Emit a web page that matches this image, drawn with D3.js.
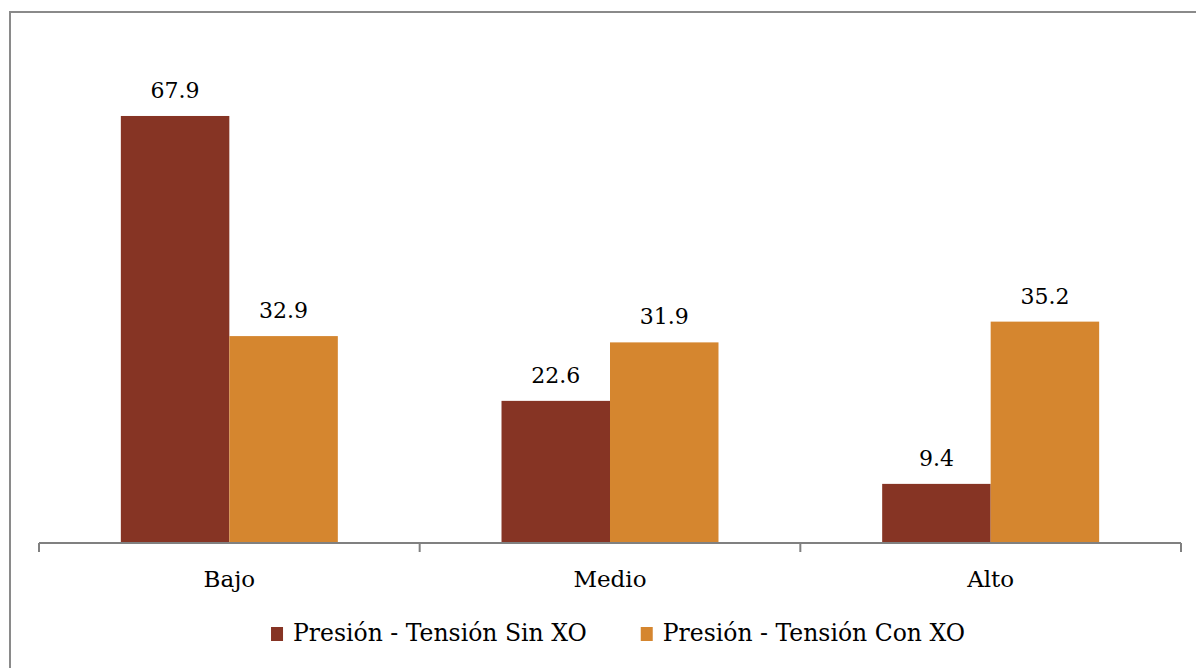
<!DOCTYPE html>
<html>
<head>
<meta charset="utf-8">
<script src="https://cdn.jsdelivr.net/npm/d3@7"></script>
<style>
  html, body { margin: 0; padding: 0; background: #fff; }
  svg { display: block; }
</style>
</head>
<body>
<svg id="chart" width="1196" height="668"></svg>
<script>
// Niveles de presión-tensión
const categories = ["Bajo", "Medio", "Alto"];
const seriesNames = ["Presión - Tensión Sin XO", "Presión - Tensión Con XO"];
const sinXO = [67.9, 22.6, 9.4];
const conXO = [32.9, 31.9, 35.2];
const seriesColors = ["#863424", "#d5862f"];

const FONT = "'DejaVu Serif', serif";

const svg = d3.select("#chart")
  .attr("font-family", FONT);
const W = 1196, H = 668;

// Marco del gráfico
svg.append("rect")
  .attr("x", 10).attr("y", 12)
  .attr("width", W + 20).attr("height", H + 20)
  .attr("fill", "none")
  .attr("stroke", "#8a8a8a")
  .attr("stroke-width", 2);

const plot = { left: 39, right: 1181, bottom: 543 };

const x0 = d3.scaleBand()
  .domain(categories)
  .range([plot.left, plot.right])
  .paddingInner(0.43)
  .paddingOuter(0.215);

const x1 = d3.scaleBand()
  .domain([0, 1])
  .range([0, x0.bandwidth()])
  .padding(0);

const y = d3.scaleLinear()
  .domain([0, 70])
  .range([plot.bottom, plot.bottom - 70 * 6.289]);

const rows = categories.map((c, i) => ({ cat: c, vals: [sinXO[i], conXO[i]] }));

const groups = svg.append("g").selectAll("g")
  .data(rows)
  .join("g")
  .attr("transform", d => `translate(${x0(d.cat)},0)`);

groups.selectAll("rect")
  .data(d => d.vals.map((v, k) => ({ v, k })))
  .join("rect")
  .attr("x", d => x1(d.k))
  .attr("y", d => y(d.v))
  .attr("width", x1.bandwidth())
  .attr("height", d => y(0) - y(d.v))
  .attr("fill", d => seriesColors[d.k]);

groups.selectAll("text.val")
  .data(d => d.vals.map((v, k) => ({ v, k })))
  .join("text")
  .attr("class", "val")
  .attr("x", d => x1(d.k) + x1.bandwidth() / 2)
  .attr("y", d => y(d.v) - 18)
  .attr("text-anchor", "middle")
  .attr("font-family", FONT)
  .attr("font-size", 22)
  .attr("fill", "#000")
  .text(d => d.v.toFixed(1));

// Eje de categorías
const axisG = svg.append("g");
axisG.append("line")
  .attr("x1", plot.left).attr("x2", plot.right)
  .attr("y1", plot.bottom).attr("y2", plot.bottom)
  .attr("stroke", "#808080").attr("stroke-width", 2);

const tickXs = categories.map(c => x0(c) - x0.step() * x0.paddingInner() / 2);
tickXs.push(plot.right);
axisG.selectAll("line.tick")
  .data(tickXs)
  .join("line")
  .attr("class", "tick")
  .attr("x1", d => d).attr("x2", d => d)
  .attr("y1", plot.bottom).attr("y2", plot.bottom + 9)
  .attr("stroke", "#808080").attr("stroke-width", 2);

axisG.selectAll("text.cat")
  .data(categories)
  .join("text")
  .attr("class", "cat")
  .attr("x", d => x0(d) + x0.bandwidth() / 2)
  .attr("y", 587)
  .attr("text-anchor", "middle")
  .attr("font-family", FONT)
  .attr("font-size", 23)
  .attr("fill", "#000")
  .text(d => d);

// Leyenda
const legend = svg.append("g");
const sq = 12, gapSq = 10, gapItems = 54, legendFont = 23.5;
const items = legend.selectAll("g")
  .data(seriesNames)
  .join("g");
items.append("rect")
  .attr("width", sq).attr("height", 14)
  .attr("y", -14)
  .attr("fill", (d, i) => seriesColors[i]);
items.append("text")
  .attr("x", sq + gapSq)
  .attr("y", 0)
  .attr("font-family", FONT)
  .attr("font-size", legendFont)
  .attr("fill", "#000")
  .text(d => d);

let offset = 0;
const widths = [];
items.each(function () {
  const tw = d3.select(this).select("text").node().getComputedTextLength();
  widths.push(sq + gapSq + tw);
});
const total = d3.sum(widths) + gapItems * (widths.length - 1);
const startX = 618 - total / 2;
items.attr("transform", (d, i) => {
  const tx = startX + offset;
  offset += widths[i] + gapItems;
  return `translate(${tx},641)`;
});
</script>
</body>
</html>
